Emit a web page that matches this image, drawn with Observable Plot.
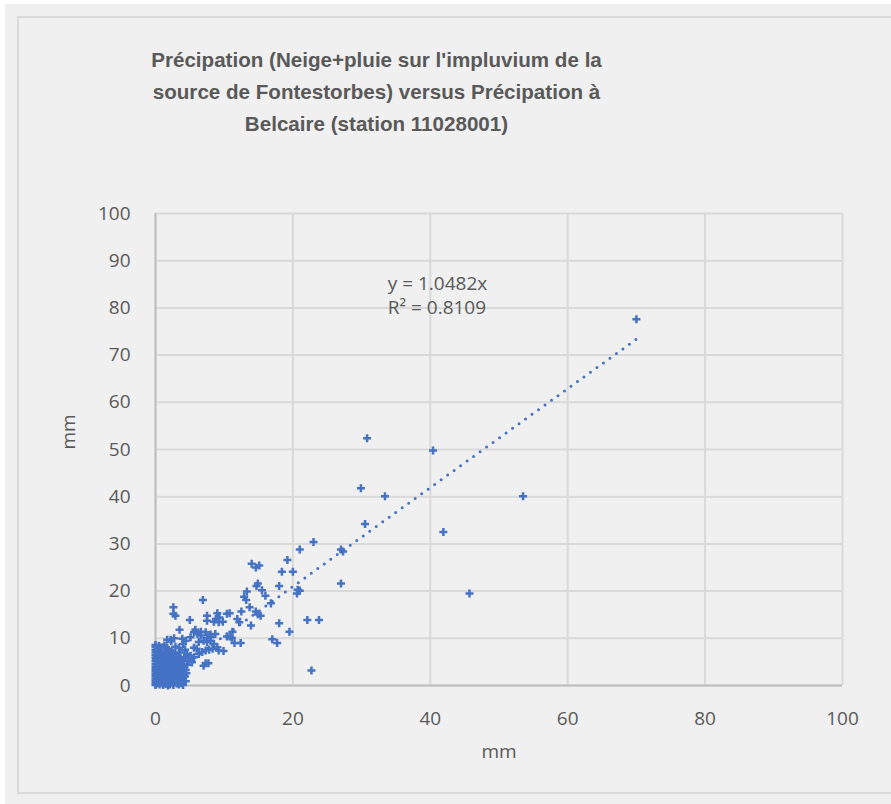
<!DOCTYPE html>
<html><head><meta charset="utf-8">
<script src="https://cdn.jsdelivr.net/npm/d3@7"></script>
<script src="https://cdn.jsdelivr.net/npm/@observablehq/plot@0.6"></script>
<style>
body{margin:0;background:#fff;}
#wrap{position:relative;width:891px;height:804px;background:#fff;overflow:hidden}
#bg{position:absolute;left:5px;top:4px;right:0;bottom:0;background:#efefef}
#frame{position:absolute;left:17px;top:16px;width:890px;height:778px;border:2px solid #d9d9d9;box-sizing:border-box;background:#f0f0f0}
#title{position:absolute;left:0;width:753px;top:44px;text-align:center;font:bold 20.6px "Liberation Sans",Arial,sans-serif;color:#595959;line-height:32px}
#chart{position:absolute;left:0;top:0}
</style></head>
<body>
<div id="wrap"><div id="bg"></div><div id="frame"></div>
<div id="title">Précipation (Neige+pluie sur l'impluvium de la<br>source de Fontestorbes) versus Précipation à<br>Belcaire (station 11028001)</div>
<div id="chart"></div></div>
<script>
// Axis ticks
const xTicks = [0, 20, 40, 60, 80, 100];
const yTicks = [0, 10, 20, 30, 40, 50, 60, 70, 80, 90, 100];
// Trend line
const slope = 1.0482;
const r2 = 0.8109;
// Points [Belcaire mm, impluvium mm]
const highPoints = [[70,77.6],[30.8,52.4],[40.4,49.8],[29.9,41.8],[33.4,40.1],[53.5,40.1],[41.9,32.5],[30.5,34.2],[23.0,30.4],[21.0,28.8],[19.2,26.6],[27.0,28.8],[27.3,28.4],[18.4,24.1],[20.0,24.1],[27.0,21.6],[20.7,20.3],[21.0,20.1],[20.6,19.5],[45.7,19.5],[22.1,13.9],[23.8,13.9],[22.7,3.2]];
const midPoints = [[14.0,25.8],[14.6,25.0],[15.1,25.4],[14.7,21.1],[14.9,21.6],[15.5,20.2],[18.0,21.1],[13.3,19.9],[12.9,18.8],[13.2,18.1],[16.0,19.0],[16.8,17.4],[6.9,18.1],[12.5,15.7],[13.7,16.6],[14.6,15.7],[14.9,15.1],[15.3,14.8],[11.9,14.1],[12.2,13.4],[13.9,12.7],[10.4,15.2],[10.8,15.3],[9.0,15.3],[9.3,14.4],[8.8,14.1],[9.8,13.5],[9.2,13.4],[8.5,13.5],[7.5,14.8],[7.5,13.7],[5.0,13.9],[18.0,13.2],[19.5,11.4],[17.0,9.8],[17.7,9.0],[11.5,9.0],[12.4,9.0],[9.9,7.3],[10.8,10.4],[11.1,10.1],[11.2,11.4],[2.6,16.6],[2.6,15.2],[2.9,14.8],[3.5,11.8],[5.8,11.8],[6.6,11.4],[7.3,11.3],[8.0,10.8],[8.7,10.9],[7.5,10.0],[8.0,10.2],[10.4,10.4],[1.7,9.7],[2.2,9.7],[2.7,10.0],[2.3,9.4],[5.1,10.2],[6.3,9.2],[5.6,11.3],[6.1,10.9],[6.6,10.6],[7.0,9.5],[7.5,9.2],[8.0,9.5],[8.5,8.8],[9.0,8.1],[9.2,7.4],[7.3,4.7],[7.7,4.7],[7.0,4.2],[6.3,6.7],[6.8,7.1],[7.3,7.4],[7.8,7.6],[8.3,7.8],[4.6,6.7],[5.1,6.3],[5.6,6.0],[4.8,5.3],[5.3,4.9],[1.5,8.0],[1.9,7.5],[2.4,7.4],[2.9,8.2],[3.4,8.0],[3.6,7.0],[4.0,8.8],[4.4,9.5],[3.9,9.9],[4.3,7.6],[5.6,8.0],[6.0,7.8],[4.2,6.0],[3.8,5.5]];
const lowPoints = [[0,0.1],[0,0.5],[0,1],[0,1.5],[0,2],[0,2.5],[0,3],[0,3.5],[0,4],[0,4.6],[0,5.2],[0,5.8],[0,6.4],[0,7],[0,7.6],[0,8.2],[0,8.6],
[0.1,0.3],[0.2,1.2],[0.2,2.8],[0.3,4.1],[0.2,6.1],[0.3,7.9],[0.4,0.6],[0.4,2.1],[0.5,3.3],[0.4,5.0],[0.5,6.8],[0.5,8.4],[0.3,1.8],[0.1,3.7],[0.1,5.5],[0.2,7.3],
[0.6,0.2],[0.7,1.0],[0.6,1.6],[0.8,2.4],[0.7,3.0],[0.9,3.8],[0.6,4.4],[0.8,5.6],[1.0,6.3],[0.7,7.1],[0.9,8.1],[1.0,0.5],[0.9,1.3],[1.0,2.0],[0.8,4.8],[1.0,4.2],
[1.1,0.1],[1.2,0.9],[1.3,1.7],[1.2,2.6],[1.4,3.4],[1.1,3.9],[1.5,4.7],[1.3,5.3],[1.2,6.6],[1.5,7.0],[1.4,0.4],[1.5,1.2],[1.4,2.2],[1.1,5.9],[1.5,6.0],[1.3,8.5],
[1.6,0.3],[1.7,1.5],[1.8,2.5],[1.6,3.0],[2.0,3.7],[1.7,4.3],[1.9,5.0],[1.8,6.1],[2.0,6.8],[1.6,5.7],[2.0,0.8],[1.9,1.9],[2.0,2.9],[1.7,7.8],[1.8,0.0],
[2.1,0.2],[2.3,1.1],[2.2,2.0],[2.4,2.7],[2.5,3.5],[2.2,4.2],[2.4,4.9],[2.1,5.6],[2.3,6.3],[2.5,5.9],[2.5,0.6],[2.4,1.6],[2.2,3.1],[2.1,7.0],
[2.6,0.1],[2.8,0.9],[2.7,1.8],[3.0,2.3],[2.9,3.2],[2.6,3.9],[2.8,4.4],[3.0,5.1],[2.7,5.5],[2.9,6.4],[2.6,2.5],[3.0,1.4],[2.8,6.9],
[3.1,0.4],[3.3,1.2],[3.2,2.0],[3.5,2.8],[3.4,3.6],[3.1,4.3],[3.3,5.0],[3.5,5.7],[3.2,6.2],[3.4,0.2],[3.5,1.7],[3.2,3.0],
[3.7,0.5],[3.9,1.4],[3.8,2.3],[4.0,3.1],[4.2,4.0],[3.7,4.6],[4.1,5.2],[4.4,0.9],[4.3,1.9],[4.5,2.6],[4.0,0.1],[3.9,3.7],[4.4,3.3],[4.6,4.4],[4.2,5.9]];

const points = [...lowPoints, ...midPoints, ...highPoints];
const xMax = d3.max(points, d => d[0]);
const trend = [[0, 0], [xMax, slope * xMax]];
const blue = "#4472c4";
const txt = "#595959";

const plot = Plot.plot({
  width: 891, height: 804,
  marginLeft: 155, marginRight: 49, marginTop: 213, marginBottom: 119,
  style: {background: "transparent", fontFamily: "'Open Sans', sans-serif", fontSize: "19px", color: txt},
  x: {domain: [0, 100]},
  y: {domain: [0, 100]},
  marks: [
    Plot.gridX(xTicks, {stroke: "#d9d9d9", strokeOpacity: 1, strokeWidth: 2}),
    Plot.gridY(yTicks, {stroke: "#d9d9d9", strokeOpacity: 1, strokeWidth: 2}),
    Plot.ruleX([0], {stroke: "#bfbfbf", strokeWidth: 2}),
    Plot.ruleY([0], {stroke: "#bfbfbf", strokeWidth: 2}),
    Plot.axisX(xTicks, {tickSize: 0, tickPadding: 26, label: null, fill: txt}),
    Plot.axisY(yTicks, {tickSize: 0, tickPadding: 25, label: null, fill: txt}),
    Plot.line(trend, {x: d => d[0], y: d => d[1], stroke: blue, strokeWidth: 3, strokeDasharray: "0 8", strokeLinecap: "round"}),
    Plot.dot(points, {x: d => d[0], y: d => d[1], symbol: "plus", r: 2.7, stroke: blue, strokeWidth: 2.5}),
    Plot.text([`y = ${slope}x`], {x: 33.8, y: 85, textAnchor: "start", fill: txt}),
    Plot.text([`R² = ${r2}`], {x: 33.8, y: 80, textAnchor: "start", fill: txt}),
    Plot.text(["mm"], {frameAnchor: "bottom", dy: 72, fill: txt}),
    Plot.text(["mm"], {frameAnchor: "left", dx: -87, rotate: -90, fill: txt})
  ]
});
document.getElementById("chart").appendChild(plot);
</script>
</body></html>
